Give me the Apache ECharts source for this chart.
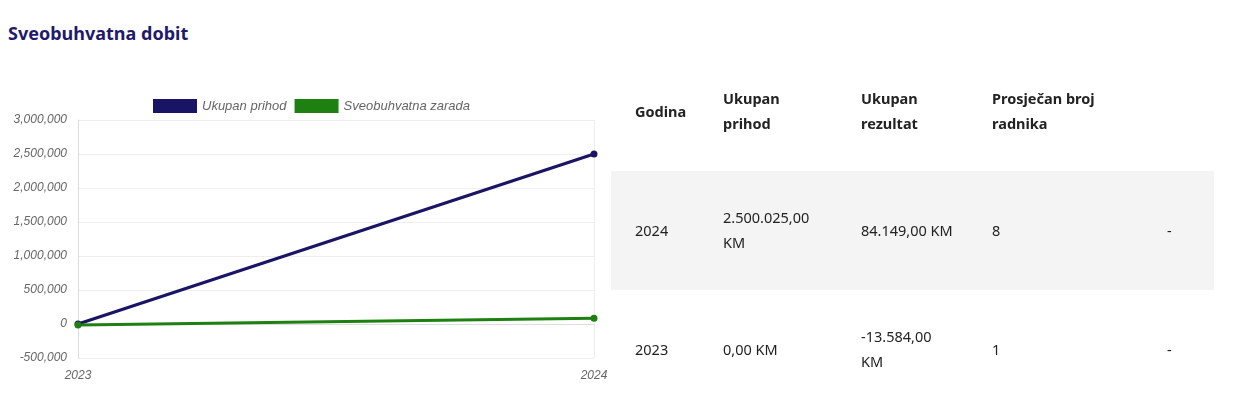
<!DOCTYPE html>
<html>
<head>
<meta charset="utf-8">
<script src="https://cdn.jsdelivr.net/npm/echarts@6/dist/echarts.min.js"></script>
<style>
body { margin: 0; background: #fff; font-family: "Noto Sans", sans-serif; color: #222; }
#title { position: absolute; left: 8px; top: 21px; font-size: 18px; font-weight: bold; color: #1f1a6b; }
#chart { position: absolute; left: 0; top: 80px; width: 620px; height: 310px; }
.row { position: absolute; left: 611px; width: 603px; height: 119px; }
.cell { position: absolute; font-size: 14.5px; line-height: 25px; transform: translateY(-50%); }
.hd { font-weight: bold; }
</style>
</head>
<body>
<div id="title">Sveobuhvatna dobit</div>
<div id="chart"></div>
<div id="table"></div>
<script>
var years = ['2023', '2024'];
var prihod = [0, 2500025];
var zarada = [-13584, 84149];
var yTicks = { min: -500000, max: 3000000, interval: 500000 };

var headers = ['Godina', 'Ukupan<br>prihod', 'Ukupan<br>rezultat', 'Prosječan broj<br>radnika', ''];
var rows = [
    ['2024', '2.500.025,00<br>KM', '84.149,00 KM', '8', '-'],
    ['2023', '0,00 KM', '-13.584,00<br>KM', '1', '-']
];
var colX = [24, 112, 250, 381, 556];

function buildTable() {
    var t = document.getElementById('table');
    var html = '';
    var all = [headers].concat(rows);
    var tops = [52, 171, 290];
    for (var r = 0; r < all.length; r++) {
        var bg = r === 1 ? 'background:#f4f4f4;' : '';
        html += '<div class="row" style="top:' + tops[r] + 'px;' + bg + '">';
        for (var c = 0; c < all[r].length; c++) {
            html += '<div class="cell' + (r === 0 ? ' hd' : '') + '" style="left:' + colX[c] + 'px;top:' + (r === 0 ? 59 : 59) + 'px">' + all[r][c] + '</div>';
        }
        html += '</div>';
    }
    t.innerHTML = html;
}
buildTable();

var option = {
    animation: false,
    color: ['#1a1464', '#1e8010'],
    legend: {
        top: 14,
        left: 148,
        itemWidth: 44,
        itemHeight: 14,
        itemGap: 8,
        icon: 'rect',
        textStyle: { fontStyle: 'italic', color: '#666', fontSize: 13, fontFamily: 'Liberation Sans' },
        data: ['Ukupan prihod', 'Sveobuhvatna zarada']
    },
    grid: { left: 78, right: 26, top: 40, bottom: 32 },
    xAxis: {
        type: 'category',
        boundaryGap: false,
        data: years,
        axisLine: { lineStyle: { color: '#ddd' } },
        axisTick: { show: false },
        splitLine: { show: true, lineStyle: { color: '#eee' } },
        axisLabel: { fontStyle: 'italic', color: '#666', fontSize: 12, fontFamily: 'Liberation Sans', margin: 12 }
    },
    yAxis: {
        type: 'value',
        min: yTicks.min,
        max: yTicks.max,
        interval: yTicks.interval,
        axisLine: { show: true, lineStyle: { color: '#ddd' } },
        splitLine: { lineStyle: { color: '#eee' } },
        axisLabel: {
            fontStyle: 'italic', color: '#666', fontSize: 12, fontFamily: 'Liberation Sans', margin: 11,
            formatter: function (v) { return v.toLocaleString('en-US'); }
        }
    },
    series: [
        { name: 'Ukupan prihod', type: 'line', data: prihod, symbol: 'circle', symbolSize: 7, lineStyle: { width: 3 } },
        { name: 'Sveobuhvatna zarada', type: 'line', data: zarada, symbol: 'circle', symbolSize: 7, lineStyle: { width: 3 } }
    ]
};
var chart = echarts.init(document.getElementById('chart'));
chart.setOption(option);
</script>
</body>
</html>
